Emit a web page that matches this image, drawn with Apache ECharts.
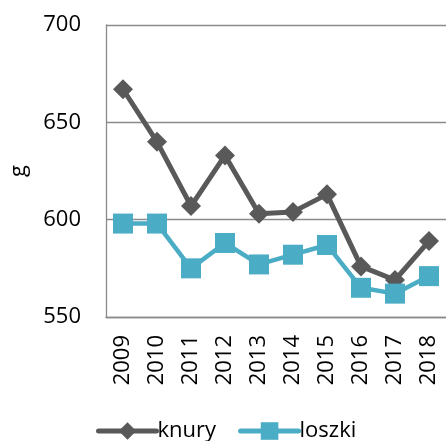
<!DOCTYPE html>
<html>
<head>
<meta charset="utf-8">
<script src="https://cdn.jsdelivr.net/npm/echarts@6/dist/echarts.min.js"></script>
<style>
  html, body { margin: 0; padding: 0; background: #fff; }
  #chart { width: 446px; height: 441px; }
</style>
</head>
<body>
<div id="chart"></div>
<script>
// dane z wykresu
const years = ['2009', '2010', '2011', '2012', '2013', '2014', '2015', '2016', '2017', '2018']
const knury = [667, 640, 607, 633, 603, 604, 613, 576, 569, 589]
const loszki = [598, 598, 575, 588, 577, 582, 587, 565, 562, 571]
const seriesNames = ['knury', 'loszki']

const font = '"Open Sans", sans-serif'
const gridColor = '#8a8a8a'

const chart = echarts.init(document.getElementById('chart'))
chart.setOption({
  animation: false,
  grid: { left: 104, right: -1, top: 25, bottom: 124 },
  legend: {
    data: seriesNames,
    bottom: -6,
    left: 91,
    itemWidth: 58,
    itemHeight: 22,
    itemGap: 22,
    lineStyle: { width: 5, cap: 'round' },
    textStyle: { fontFamily: font, fontSize: 22, color: '#000', padding: [0, 0, 0, -4] }
  },
  xAxis: {
    type: 'category',
    data: years,
    boundaryGap: true,
    axisLine: { lineStyle: { color: gridColor, width: 1.3 } },
    axisTick: { show: false },
    axisLabel: {
      rotate: 90,
      margin: 18,
      fontFamily: font,
      fontSize: 22,
      color: '#000'
    }
  },
  yAxis: {
    type: 'value',
    min: 550,
    max: 700,
    interval: 50,
    name: 'g',
    nameLocation: 'middle',
    nameGap: 76,
    nameTextStyle: { fontFamily: font, fontSize: 22, color: '#000' },
    axisLine: { show: true, lineStyle: { color: gridColor, width: 1.3 } },
    axisTick: { show: false },
    splitLine: { lineStyle: { color: gridColor, width: 1.3 } },
    axisLabel: { margin: 25, fontFamily: font, fontSize: 22, color: '#000' }
  },
  series: [
    {
      name: seriesNames[0],
      type: 'line',
      data: knury,
      symbol: 'diamond',
      symbolSize: 20,
      itemStyle: { color: '#595959' },
      lineStyle: { color: '#595959', width: 5 }
    },
    {
      name: seriesNames[1],
      type: 'line',
      data: loszki,
      symbol: 'rect',
      symbolSize: 20,
      itemStyle: { color: '#4bacc6' },
      lineStyle: { color: '#4bacc6', width: 4.5 }
    }
  ]
})
</script>
</body>
</html>
